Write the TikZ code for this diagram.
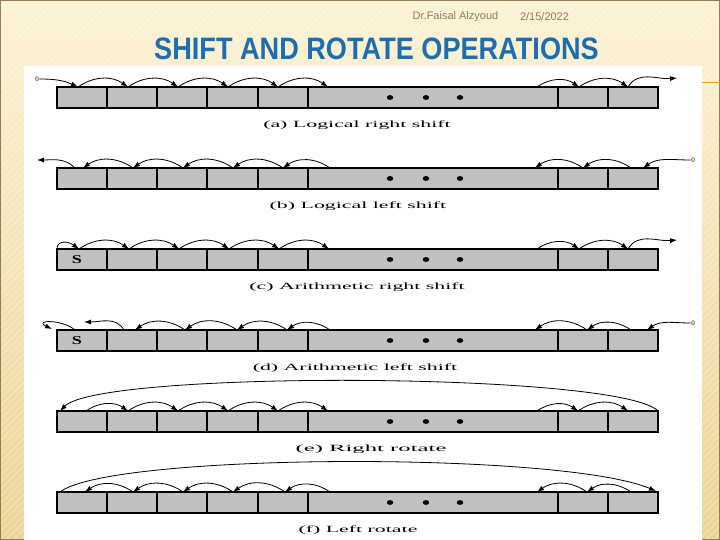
\documentclass[tikz,border=0pt]{standalone}
\usepackage{fontspec}
\usepackage{graphicx}
\setmainfont{Liberation Serif}
\newfontfamily\titlefont{Liberation Sans}
\usetikzlibrary{arrows.meta}

\definecolor{slidetop}{RGB}{252,242,212}
\definecolor{slidebot}{RGB}{236,212,150}
\definecolor{titleblue}{RGB}{28,110,175}
\definecolor{headgray}{RGB}{140,125,95}
\definecolor{cellgray}{RGB}{192,192,192}
\definecolor{accent}{RGB}{230,150,50}
\definecolor{slideframe}{RGB}{150,125,80}

\newcommand{\wide}[2][2.3]{\scalebox{#1}[1]{#2}}

\begin{document}
\begin{tikzpicture}[x=1pt, y=1pt,
		bit/.style={line width=0.8pt, -{Latex[length=7pt,width=5pt]}},
		hop/.style={bit, bend left=35},
		back/.style={bit, bend right=35},
		opname/.style={font=\fontsize{9.5}{10}\selectfont, inner sep=0pt},
		zero/.style={font=\fontsize{7}{7}\selectfont, inner sep=0.5pt},
		sbit/.style={font=\bfseries\fontsize{12}{12}\selectfont, inner sep=0pt},
		headtext/.style={font=\titlefont\fontsize{11}{11}\selectfont, text=headgray, inner sep=0pt}]
		\useasboundingbox (0,0) rectangle (720,540);
		
		% --- Register Def ---
		\def\register{%
			\fill[cellgray] (57,0) rectangle (658,21);
			\draw[line width=1.2pt] (57,0) rectangle (658,21);
			\foreach \x in {57,107,157,207,258,308,558,608,658}
				\draw[line width=2.4pt] (\x,0) -- (\x,21);
			\foreach \x in {390,426,460}
				\fill (\x,10.5) ellipse (3.2pt and 2.4pt);
		}
		
		% --- Slide Background ---
		\shade[top color=slidetop, bottom color=slidebot] (0,0) rectangle (720,540);
		\begin{scope}
			\clip (0,0) rectangle (720,540);
			\foreach \k in {-540,-533,...,720}
				\draw[white, opacity=0.3, line width=1.2pt] (\k,0) -- ++(540,540);
		\end{scope}
		\draw[slideframe, line width=1pt] (0.5,0.5) rectangle (719.5,539.5);
		\draw[accent, line width=1pt] (702,457) -- (720,457);
		\fill[white] (24,0) rectangle (702,474);
		
		% --- Header and Title ---
		\node[headtext] (author) at (455.5,523) {Dr.Faisal Alzyoud};
		\node[headtext] (date) at (544.5,523) {2/15/2022};
		\node[anchor=base, text=titleblue, font=\titlefont\bfseries\fontsize{31}{31}\selectfont] (title) at (376.5,480) {\scalebox{0.875}[1]{SHIFT AND ROTATE OPERATIONS}};
		
		% (a) Logical right shift
		\begin{scope}[shift={(0,432)}]
			\register
			\node[zero] (za) at (37,29) {0};
			\foreach \i in {0,...,5} \coordinate (a\i) at (78+50*\i,21);
			\coordinate (a6) at (537,21);
			\coordinate (a7) at (579,21);
			\coordinate (a8) at (628,21);
			\coordinate (aout) at (677,30);
			\draw[bit] (za.east) to[out=0,in=155] (a0);
			\foreach \i/\j in {0/1,1/2,2/3,3/4,4/5,6/7,7/8} \draw[hop] (a\i) to (a\j);
			\draw[bit] (a8) to[out=60,in=185] (aout);
			\node[opname] (capA) at (357,-17) {\wide{(a) Logical right shift}};
		\end{scope}
		
		% (b) Logical left shift
		\begin{scope}[shift={(0,351)}]
			\register
			\foreach \i in {0,...,4} \coordinate (b\i) at (83+50*\i,21);
			\coordinate (b5) at (330,21);
			\coordinate (b6) at (535,21);
			\coordinate (b7) at (583,21);
			\coordinate (b8) at (631,21);
			\coordinate (b9) at (643,21);
			\coordinate (bst) at (75,21);
			\coordinate (bout) at (37,29);
			\node[zero] (zb) at (693,29) {0};
			\foreach \i/\j in {1/0,2/1,3/2,4/3,5/4,7/6,8/7} \draw[back] (b\i) to (b\j);
			\draw[bit] (bst) to[out=135,in=0] (bout);
			\draw[bit] (zb.west) to[out=180,in=35] (b9);
			\node[opname] (capB) at (358,-17) {\wide{(b) Logical left shift}};
		\end{scope}
		
		% (c) Arithmetic right shift
		\begin{scope}[shift={(0,270)}]
			\register
			\node[sbit] (sc) at (77,10.5) {\wide[1.5]{S}};
			\foreach \i in {0,...,5} \coordinate (c\i) at (79+50*\i,21);
			\coordinate (c6) at (537,21);
			\coordinate (c7) at (579,21);
			\coordinate (c8) at (628,21);
			\coordinate (cs) at (57,21);
			\coordinate (cout) at (677,30);
			\draw[bit] (cs) .. controls (57,30) and (68,29) .. (c0);
			\foreach \i/\j in {0/1,1/2,2/3,3/4,4/5,6/7,7/8} \draw[hop] (c\i) to (c\j);
			\draw[bit] (c8) to[out=60,in=185] (cout);
			\node[opname] (capC) at (357,-17) {\wide{(c) Arithmetic right shift}};
		\end{scope}
		
		% (d) Arithmetic left shift
		\begin{scope}[shift={(0,189)}]
			\register
			\node[sbit] (sd) at (77,10.5) {\wide[1.5]{S}};
			\coordinate (d1) at (135,21);
			\coordinate (d2) at (185,21);
			\coordinate (d3) at (237,21);
			\coordinate (d4) at (287,21);
			\coordinate (d5) at (330,21);
			\coordinate (d6) at (535,21);
			\coordinate (d7) at (587,21);
			\coordinate (d8) at (631,21);
			\coordinate (d9) at (647,21);
			\coordinate (ds) at (75,21);
			\coordinate (de) at (52,22);
			\coordinate (dl) at (124,21);
			\coordinate (dx) at (84,29);
			\node[zero] (zd) at (693,28) {0};
			\draw[bit] (ds) .. controls (62,32) and (33,31) .. (de);
			\draw[bit] (dl) to[out=120,in=0] (dx);
			\foreach \i/\j in {2/1,3/2,4/3,5/4,7/6,8/7} \draw[back] (d\i) to (d\j);
			\draw[bit] (zd.west) to[out=180,in=35] (d9);
			\node[opname] (capD) at (355,-17) {\wide{(d) Arithmetic left shift}};
		\end{scope}
		
		% (e) Right rotate
		\begin{scope}[shift={(0,108)}]
			\register
			\coordinate (e0) at (86,21);
			\foreach \i in {1,...,5} \coordinate (e\i) at (78+50*\i,21);
			\coordinate (e6) at (537,21);
			\coordinate (e7) at (578,21);
			\coordinate (e8) at (628,21);
			\coordinate (eR) at (658,21);
			\coordinate (eL) at (60,21);
			\foreach \i/\j in {0/1,1/2,2/3,3/4,4/5,6/7,7/8} \draw[hop] (e\i) to (e\j);
			\draw[bit] (eR) .. controls (620,60) and (100,62) .. (eL);
			\node[opname] (capE) at (371,-17) {\wide[2.6]{(e) Right rotate}};
		\end{scope}
		
		% (f) Left rotate
		\begin{scope}[shift={(0,27)}]
			\register
			\coordinate (f0) at (85,21);
			\coordinate (f1) at (133,21);
			\coordinate (f2) at (183,21);
			\coordinate (f3) at (233,21);
			\coordinate (f4) at (285,21);
			\coordinate (f5) at (330,21);
			\coordinate (f6) at (537,21);
			\coordinate (f7) at (587,21);
			\coordinate (f8) at (631,21);
			\coordinate (fL) at (60,21);
			\coordinate (fR) at (656,22);
			\foreach \i/\j in {1/0,2/1,3/2,4/3,5/4,7/6,8/7} \draw[back] (f\i) to (f\j);
			\draw[bit] (fL) .. controls (110,60) and (560,62) .. (fR);
			\node[opname] (capF) at (358,-17) {\wide{(f) Left rotate}};
		\end{scope}
		
\end{tikzpicture}
\end{document}
